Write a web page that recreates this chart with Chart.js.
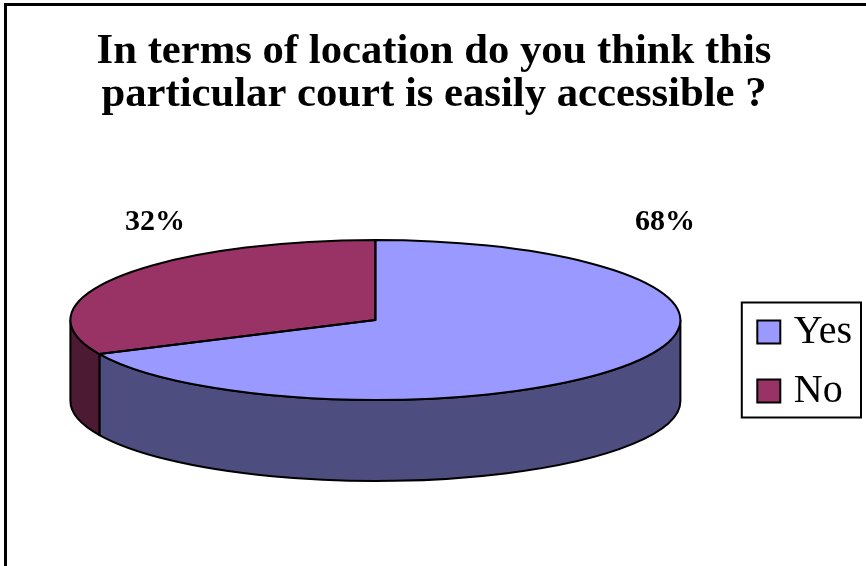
<!DOCTYPE html>
<html>
<head>
<meta charset="utf-8">
<script src="https://cdn.jsdelivr.net/npm/chart.js@4.4.0/dist/chart.umd.min.js"></script>
<style>
  html, body { margin: 0; padding: 0; background: #fff; }
  canvas { display: block; }
</style>
</head>
<body>
<canvas id="grafico" width="866" height="566"></canvas>
<script>
const respostas = ['Yes', 'No'];
const percentuais = [68, 32];
const coresTopo = ['#9999FF', '#993366'];
const coresLado = ['#4D4D80', '#4D1A33'];
const titulo = ['In terms of location do you think this', 'particular court is easily accessible ?'];

const serif = "'Liberation Serif', 'Times New Roman', serif";

// Chart.js draws the flat pie; this squashes it and adds the rim underneath
const pizza3d = {
    id: 'pizza3d',
    beforeDatasetsDraw(chart, args, opts) {
        const ctx = chart.ctx;
        const arcs = chart.getDatasetMeta(0).data;
        const cx = arcs[0].x, cy0 = arcs[0].y, r = arcs[0].outerRadius;
        const ry = r * opts.tilt, cy = opts.centerY, d = opts.depth;

        ctx.save();
        ctx.lineWidth = opts.lineWidth;
        ctx.strokeStyle = '#000';
        ctx.lineJoin = 'round';
        arcs.forEach((arc, i) => {
            // only the front half of the rim (0..PI) can be seen
            [-2 * Math.PI, 0, 2 * Math.PI].forEach(shift => {
                const s = Math.max(arc.startAngle, shift);
                const e = Math.min(arc.endAngle, shift + Math.PI);
                if (e <= s) return;
                ctx.beginPath();
                ctx.ellipse(cx, cy, r, ry, 0, s, e);
                ctx.lineTo(cx + r * Math.cos(e), cy + ry * Math.sin(e) + d);
                ctx.ellipse(cx, cy + d, r, ry, 0, e, s, true);
                ctx.closePath();
                ctx.fillStyle = opts.sideColors[i];
                ctx.fill();
                ctx.stroke();
            });
        });
        ctx.restore();

        // squash the top face
        ctx.save();
        ctx.translate(0, cy);
        ctx.scale(1, opts.tilt);
        ctx.translate(0, -cy0);
    },
    afterDatasetsDraw(chart, args, opts) {
        const ctx = chart.ctx;
        ctx.restore();

        const arcs = chart.getDatasetMeta(0).data;
        const cx = arcs[0].x, r = arcs[0].outerRadius;
        const ry = r * opts.tilt, cy = opts.centerY;
        ctx.save();
        ctx.lineWidth = opts.lineWidth;
        ctx.strokeStyle = '#000';
        ctx.lineJoin = 'round';
        arcs.forEach(arc => {
            ctx.beginPath();
            ctx.moveTo(cx, cy);
            ctx.ellipse(cx, cy, r, ry, 0, arc.startAngle, arc.endAngle);
            ctx.closePath();
            ctx.stroke();
        });
        ctx.restore();
    },
    afterDraw(chart, args, opts) {
        const ctx = chart.ctx;
        ctx.save();

        // percentage labels
        const total = percentuais.reduce((a, b) => a + b, 0);
        ctx.fillStyle = '#000';
        ctx.font = 'bold 30px ' + serif;
        ctx.textAlign = 'center';
        ctx.textBaseline = 'alphabetic';
        percentuais.forEach((v, i) => {
            const p = opts.labelPos[i];
            ctx.fillText(Math.round(v / total * 100) + '%', p[0], p[1]);
        });

        // frame round the legend
        const leg = chart.legend;
        const boxes = leg.legendHitBoxes;
        const ultimo = boxes[boxes.length - 1];
        const topo = boxes[0].top - 9.5;
        const base = ultimo.top + ultimo.height + 6.5;
        const esq = leg.left - 3;
        ctx.lineWidth = 2;
        ctx.strokeStyle = '#000';
        ctx.strokeRect(esq, topo, leg.right - 1 - esq, base - topo);

        // outer border, top and left only
        ctx.fillStyle = '#000';
        ctx.fillRect(4, 3, 862, 3);
        ctx.fillRect(4, 3, 3, 563);
        ctx.restore();
    }
};

const ctx = document.getElementById('grafico').getContext('2d');
const chart = new Chart(ctx, {
    type: 'pie',
    data: {
        labels: respostas,
        datasets: [{
            data: percentuais,
            backgroundColor: coresTopo,
            borderWidth: 0,
            radius: 305,
            clip: false
        }]
    },
    options: {
        responsive: false,
        devicePixelRatio: 1,
        animation: false,
        events: [],
        layout: {
            padding: { left: 6, right: 4, top: 0, bottom: 136 }
        },
        plugins: {
            title: {
                display: true,
                text: titulo,
                color: '#000',
                font: { family: serif, size: 42.7, weight: 'bold', lineHeight: 1.02 },
                padding: { top: 30, bottom: 4 }
            },
            legend: {
                position: 'right',
                align: 'end',
                labels: {
                    usePointStyle: true,
                    pointStyle: 'rect',
                    boxWidth: 10,
                    boxHeight: 23,
                    padding: 19,
                    color: '#000',
                    font: { family: serif, size: 40 },
                    generateLabels(chart) {
                        return Chart.overrides.doughnut.plugins.legend.labels.generateLabels(chart)
                            .map(item => Object.assign(item, { strokeStyle: '#000', lineWidth: 2 }));
                    }
                }
            },
            tooltip: { enabled: false },
            pizza3d: {
                tilt: 80 / 305,
                centerY: 320,
                depth: 81,
                lineWidth: 2,
                sideColors: coresLado,
                // Yes, No
                labelPos: [[665, 230], [155, 230]]
            }
        }
    },
    plugins: [pizza3d]
});
</script>
</body>
</html>
